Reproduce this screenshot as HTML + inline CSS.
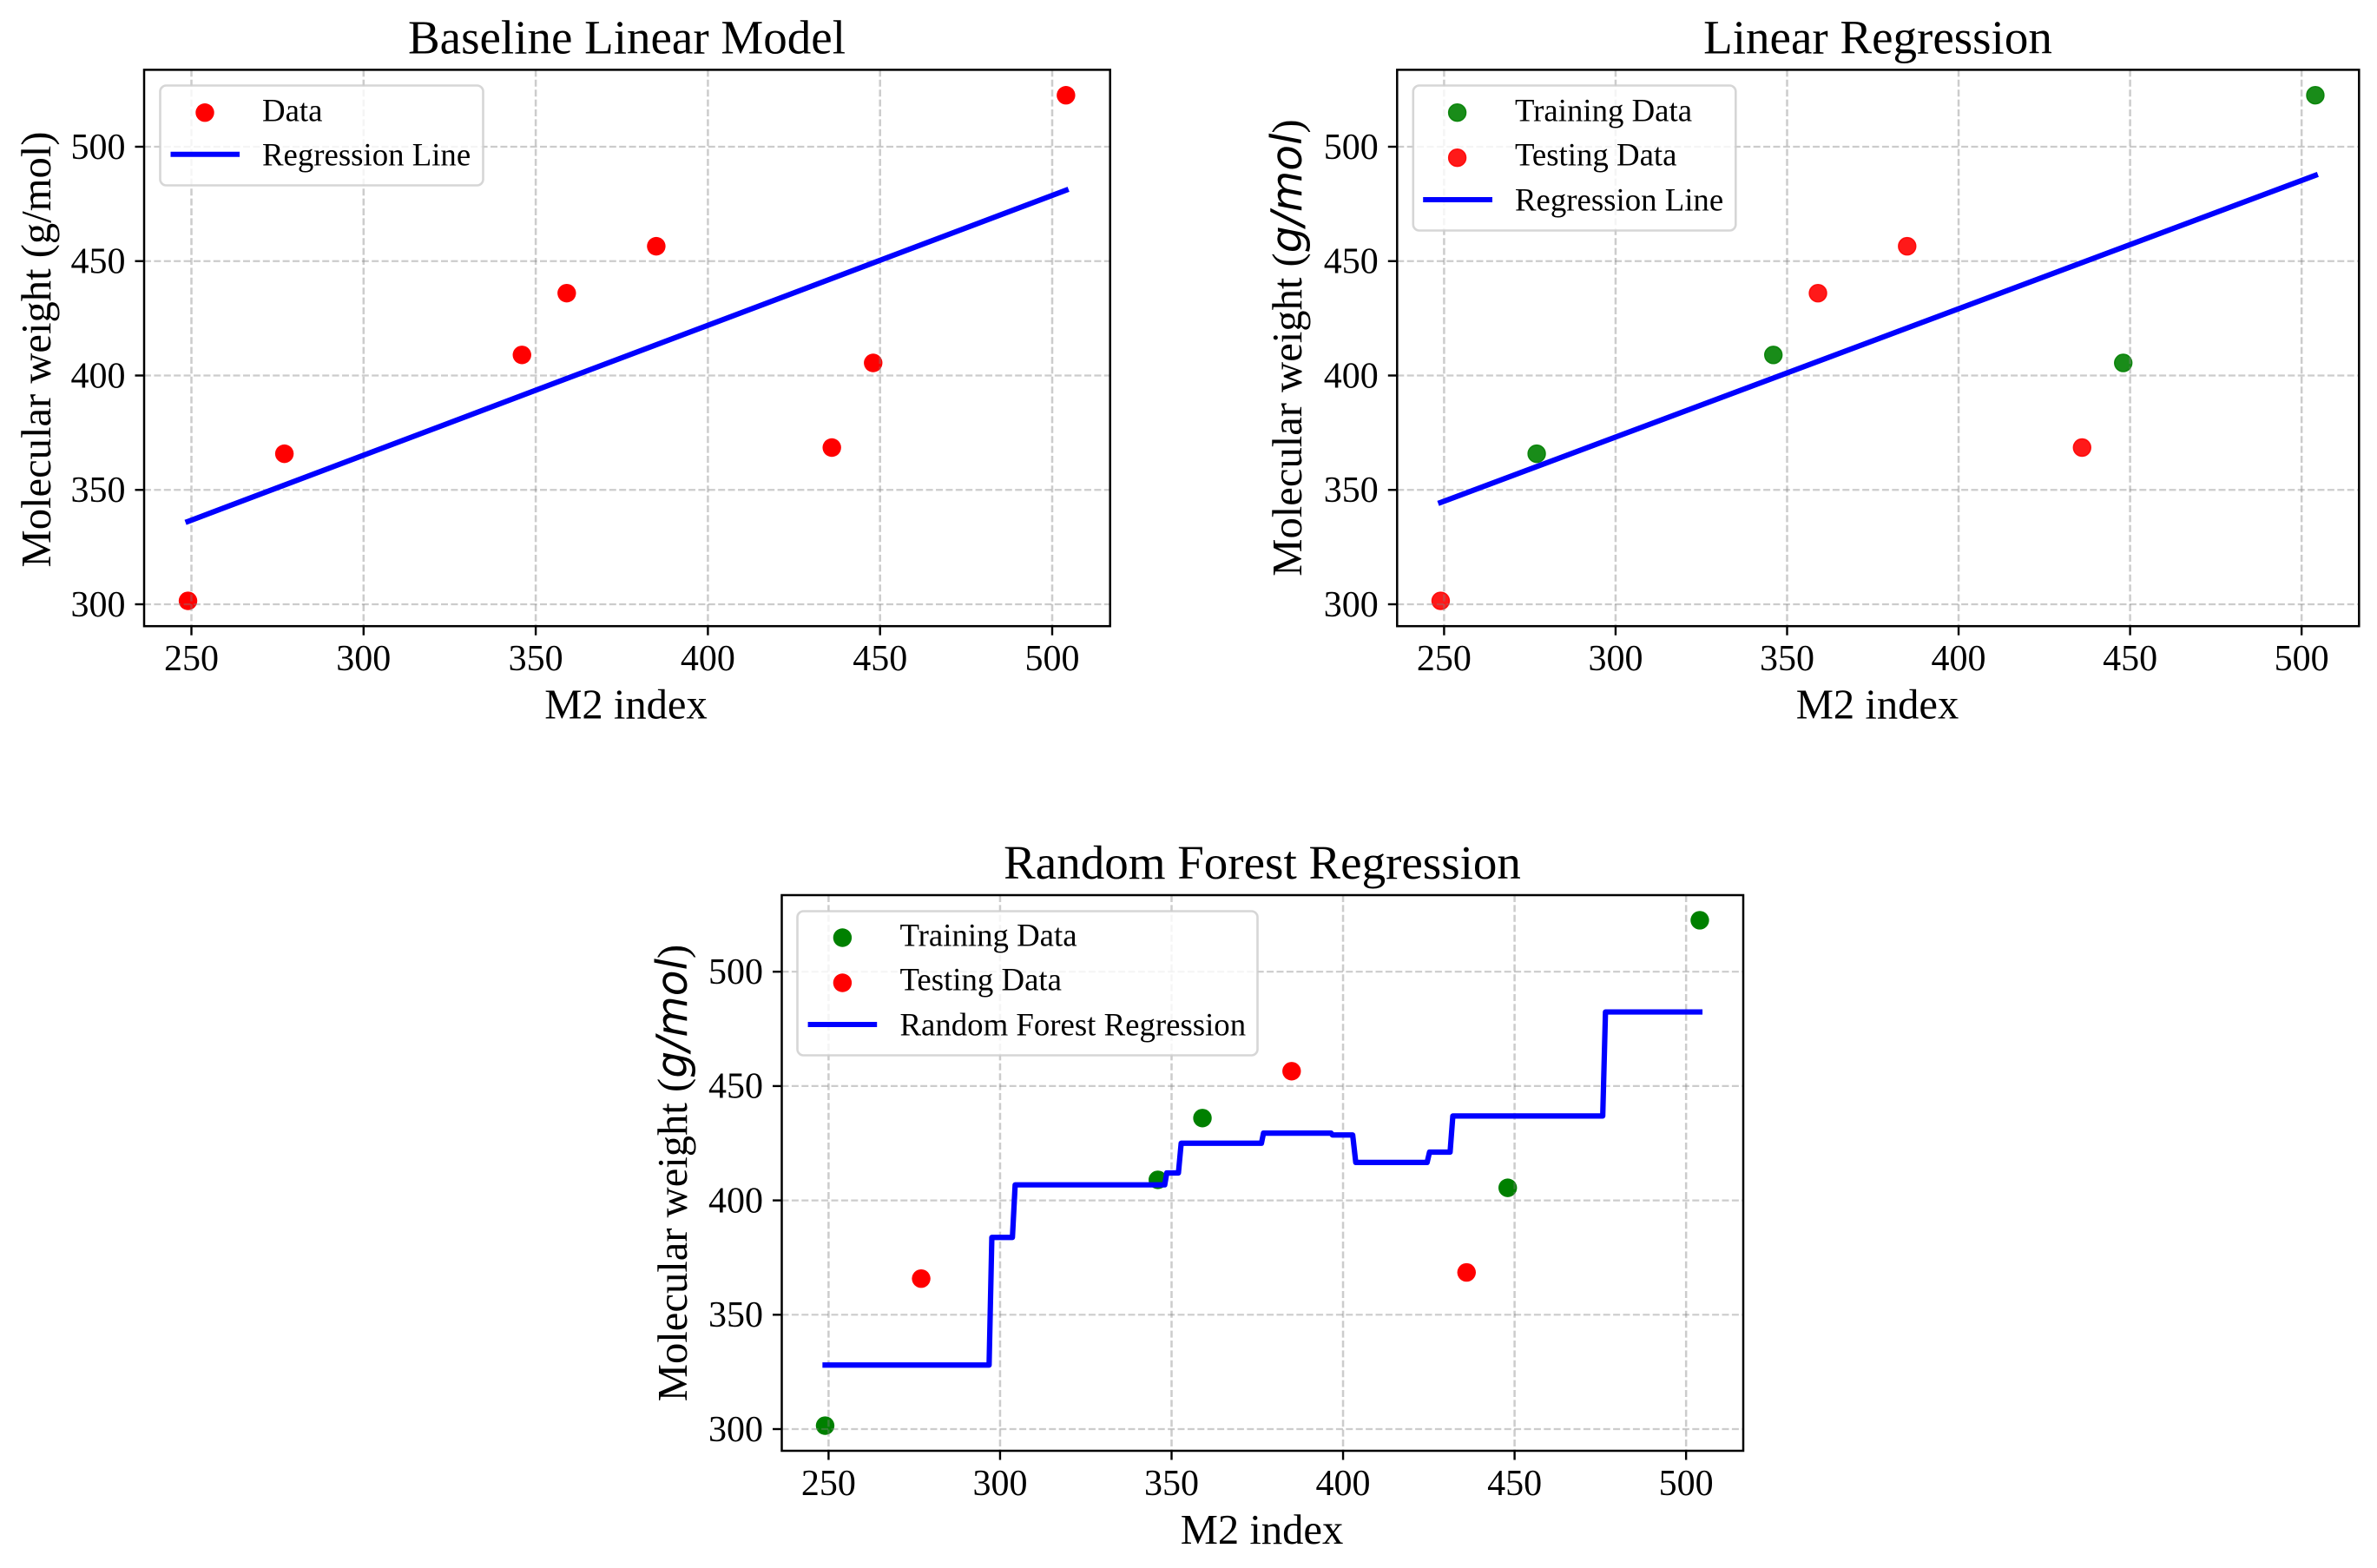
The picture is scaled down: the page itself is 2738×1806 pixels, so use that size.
<!DOCTYPE html>
<html lang="en">
<head>
<meta charset="utf-8">
<title>Regression model comparison</title>
<style>
html,body{margin:0;padding:0;background:#fff;width:2738px;height:1806px;overflow:hidden}
svg{display:block}
text{font-family:"Liberation Serif","Times New Roman",serif;fill:#000}
.title{font-size:55px;text-anchor:middle}
.axis-label{font-size:48.6px;text-anchor:middle}
.legend-text{font-size:36.8px}
.math{font-family:"DejaVu Sans",sans-serif;font-style:italic}
.legend-box{fill:#fff;fill-opacity:.8;stroke:#ccc;stroke-opacity:.8;stroke-width:2.6}
.frame{fill:none;stroke:#000;stroke-width:2.5}
</style>
</head>
<body>
<svg id="figure" xmlns="http://www.w3.org/2000/svg" width="2738" height="1806" viewBox="0 0 2738 1806">
  <rect width="2738" height="1806" fill="#fff"/>

  <g id="panel-baseline">
    <g id="baseline-points"></g>
    <g id="baseline-grid"></g>
    <g id="baseline-line"></g>
    <rect class="frame" x="166" y="80.4" width="1112.7" height="640.8"/>
    <g id="baseline-ticks"></g>
    <text class="title" x="722" y="61.5">Baseline Linear Model</text>
    <text class="axis-label" x="721" y="827.5">M2 index</text>
    <text class="axis-label" transform="translate(58,402.5) rotate(-90)">Molecular weight (g/mol)</text>
    <g>
      <rect class="legend-box" x="184.5" y="98.5" width="372" height="115" rx="7"/>
      <circle cx="236" cy="129.7" r="10.7" fill="#f00"/>
      <text class="legend-text" x="302" y="139.3">Data</text>
      <line x1="196.5" x2="276" y1="177.7" y2="177.7" stroke="#00f" stroke-width="6"/>
      <text class="legend-text" x="302" y="190.7">Regression Line</text>
    </g>
  </g>

  <g id="panel-linear">
    <g id="linear-points"></g>
    <g id="linear-grid"></g>
    <g id="linear-line"></g>
    <rect class="frame" x="1609.3" y="80.4" width="1108" height="640.8"/>
    <g id="linear-ticks"></g>
    <text class="title" x="2163" y="61.5">Linear Regression</text>
    <text class="axis-label" x="2162.5" y="827.5">M2 index</text>
    <text class="axis-label" transform="translate(1499,400.5) rotate(-90)">Molecular weight (<tspan class="math">g/mol</tspan>)</text>
    <g>
      <rect class="legend-box" x="1627.8" y="98.5" width="371.5" height="167" rx="7"/>
      <circle cx="1678.6" cy="129.7" r="10" fill="#008000" fill-opacity=".9" stroke="#008000" stroke-opacity=".9" stroke-width="1.4"/>
      <text class="legend-text" x="1745" y="139.3">Training Data</text>
      <circle cx="1678.6" cy="181.7" r="10" fill="#f00" fill-opacity=".9" stroke="#f00" stroke-opacity=".9" stroke-width="1.4"/>
      <text class="legend-text" x="1745" y="190.7">Testing Data</text>
      <line x1="1639.2" x2="1719" y1="230" y2="230" stroke="#00f" stroke-width="6"/>
      <text class="legend-text" x="1745" y="242.3">Regression Line</text>
    </g>
  </g>

  <g id="panel-forest">
    <g id="forest-points"></g>
    <g id="forest-grid"></g>
    <g id="forest-line"></g>
    <rect class="frame" x="900.5" y="1031" width="1107.5" height="640"/>
    <g id="forest-ticks"></g>
    <text class="title" x="1454" y="1012">Random Forest Regression</text>
    <text class="axis-label" x="1453.5" y="1778">M2 index</text>
    <text class="axis-label" transform="translate(791,1351) rotate(-90)">Molecular weight (<tspan class="math">g/mol</tspan>)</text>
    <g>
      <rect class="legend-box" x="918.5" y="1049.5" width="530" height="166" rx="7"/>
      <circle cx="970.4" cy="1080" r="10.7" fill="#008000"/>
      <text class="legend-text" x="1036.5" y="1089.3">Training Data</text>
      <circle cx="970.4" cy="1132" r="10.7" fill="#f00"/>
      <text class="legend-text" x="1036.5" y="1140.7">Testing Data</text>
      <line x1="930.6" x2="1010.2" y1="1180" y2="1180" stroke="#00f" stroke-width="6"/>
      <text class="legend-text" x="1036.5" y="1192.7">Random Forest Regression</text>
    </g>
  </g>
</svg>

<script>
// ---- chart data -----------------------------------------------------------
const xTickValues = [250, 300, 350, 400, 450, 500];
const yTickValues = [300, 350, 400, 450, 500];
const m2Index = [249, 277, 346, 359, 385, 436, 448, 504];
const molecularWeight = [301.5, 365.8, 409, 436, 456.5, 368.5, 405.5, 522.5];
const linearSplit = ['test', 'train', 'train', 'test', 'test', 'test', 'train', 'train'];
const forestSplit = ['train', 'test', 'train', 'train', 'test', 'test', 'train', 'train'];
const baselineFitX = [249, 504];
const baselineFitY = [336.2, 481];
const linearFitX = [249, 504];
const linearFitY = [344.5, 487.5];
const forestFitX = [249, 296.8, 297.6, 303.6, 304.4, 348, 348.6, 352, 352.8, 376.2, 376.8, 396.5, 396.9, 402.8, 403.7, 424.5, 425.2, 431.2, 432, 475.7, 476.5, 504];
const forestFitY = [328, 328, 383.8, 383.8, 406.8, 406.8, 412, 412, 425, 425, 429.4, 429.4, 428.6, 428.6, 416.6, 416.6, 421.1, 421.1, 436.9, 436.9, 482.4, 482.4];

// ---- panel geometry --------------------------------------------------------
const SVG_NS = 'http://www.w3.org/2000/svg';
const baselinePanel = { left: 166, right: 1278.7, top: 80.4, bottom: 721.2, x250: 220.5, xPerUnit: 3.966, y300: 696, yPerUnit: 2.635, tickBaseline: 772 };
const linearPanel = { left: 1609.3, right: 2717.3, top: 80.4, bottom: 721.2, x250: 1663.4, xPerUnit: 3.951, y300: 696, yPerUnit: 2.635, tickBaseline: 772 };
const forestPanel = { left: 900.5, right: 2008, top: 1031, bottom: 1671, x250: 954.4, xPerUnit: 3.951, y300: 1646, yPerUnit: 2.634, tickBaseline: 1722 };

function xPos(panel, value) { return panel.x250 + (value - 250) * panel.xPerUnit; }
function yPos(panel, value) { return panel.y300 - (value - 300) * panel.yPerUnit; }

function make(tag, attrs, parent) {
  const el = document.createElementNS(SVG_NS, tag);
  for (const key in attrs) el.setAttribute(key, attrs[key]);
  parent.appendChild(el);
  return el;
}

function drawGridAndTicks(panel, prefix) {
  const gridLayer = document.getElementById(prefix + '-grid');
  const tickLayer = document.getElementById(prefix + '-ticks');
  const gridStyle = { stroke: '#808080', 'stroke-opacity': 0.4, 'stroke-dasharray': '8 3.4' };
  const tickStyle = { stroke: '#000', 'stroke-width': 2.4 };

  xTickValues.forEach(function (value) {
    const x = xPos(panel, value);
    const grid = make('line', Object.assign({ x1: x, x2: x, y1: panel.top, y2: panel.bottom, 'stroke-width': 2.5 }, gridStyle), gridLayer);
    
    
    const tick = make('line', Object.assign({ x1: x, x2: x, y1: panel.bottom, y2: panel.bottom + 10.5 }, tickStyle), tickLayer);
    
    
    const label = make('text', { x: x, y: panel.tickBaseline, 'text-anchor': 'middle', 'font-size': 42 }, tickLayer);
    
    
    label.textContent = value;
  });

  yTickValues.forEach(function (value) {
    const y = yPos(panel, value);
    const grid = make('line', Object.assign({ x1: panel.left, x2: panel.right, y1: y, y2: y, 'stroke-width': 2.2 }, gridStyle), gridLayer);
    
    
    const tick = make('line', Object.assign({ x1: panel.left - 10.5, x2: panel.left, y1: y, y2: y }, tickStyle), tickLayer);
    
    
    const label = make('text', { x: panel.left - 21.5, y: y + 13.8, 'text-anchor': 'end', 'font-size': 42 }, tickLayer);
    
    
    label.textContent = value;
  });
}

function drawPoints(panel, prefix, splits, translucent) {
  const layer = document.getElementById(prefix + '-points');
  m2Index.forEach(function (value, i) {
    const split = splits ? splits[i] : 'all';
    const colour = split === 'train' ? '#008000' : '#ff0000';
    const attrs = { cx: xPos(panel, value), cy: yPos(panel, molecularWeight[i]), fill: colour };
    if (translucent) {
      attrs.r = 10;
      attrs['fill-opacity'] = 0.9;
      attrs.stroke = colour;
      attrs['stroke-opacity'] = 0.9;
      attrs['stroke-width'] = 1.4;
    } else {
      attrs.r = 10.7;
    }
    const point = make('circle', attrs, layer);
    
    
  });
}

function drawFit(panel, prefix, fitX, fitY) {
  const layer = document.getElementById(prefix + '-line');
  const points = fitX.map(function (value, i) {
    return xPos(panel, value).toFixed(2) + ',' + yPos(panel, fitY[i]).toFixed(2);
  }).join(' ');
  const fit = make('polyline', { points: points, fill: 'none', stroke: '#0000ff', 'stroke-width': 6.2, 'stroke-linejoin': 'round', 'stroke-linecap': 'square' }, layer);
  
  
}

drawGridAndTicks(baselinePanel, 'baseline');
drawPoints(baselinePanel, 'baseline', null, false);
drawFit(baselinePanel, 'baseline', baselineFitX, baselineFitY);

drawGridAndTicks(linearPanel, 'linear');
drawPoints(linearPanel, 'linear', linearSplit, true);
drawFit(linearPanel, 'linear', linearFitX, linearFitY);

drawGridAndTicks(forestPanel, 'forest');
drawPoints(forestPanel, 'forest', forestSplit, false);
drawFit(forestPanel, 'forest', forestFitX, forestFitY);
</script>
</body>
</html>
